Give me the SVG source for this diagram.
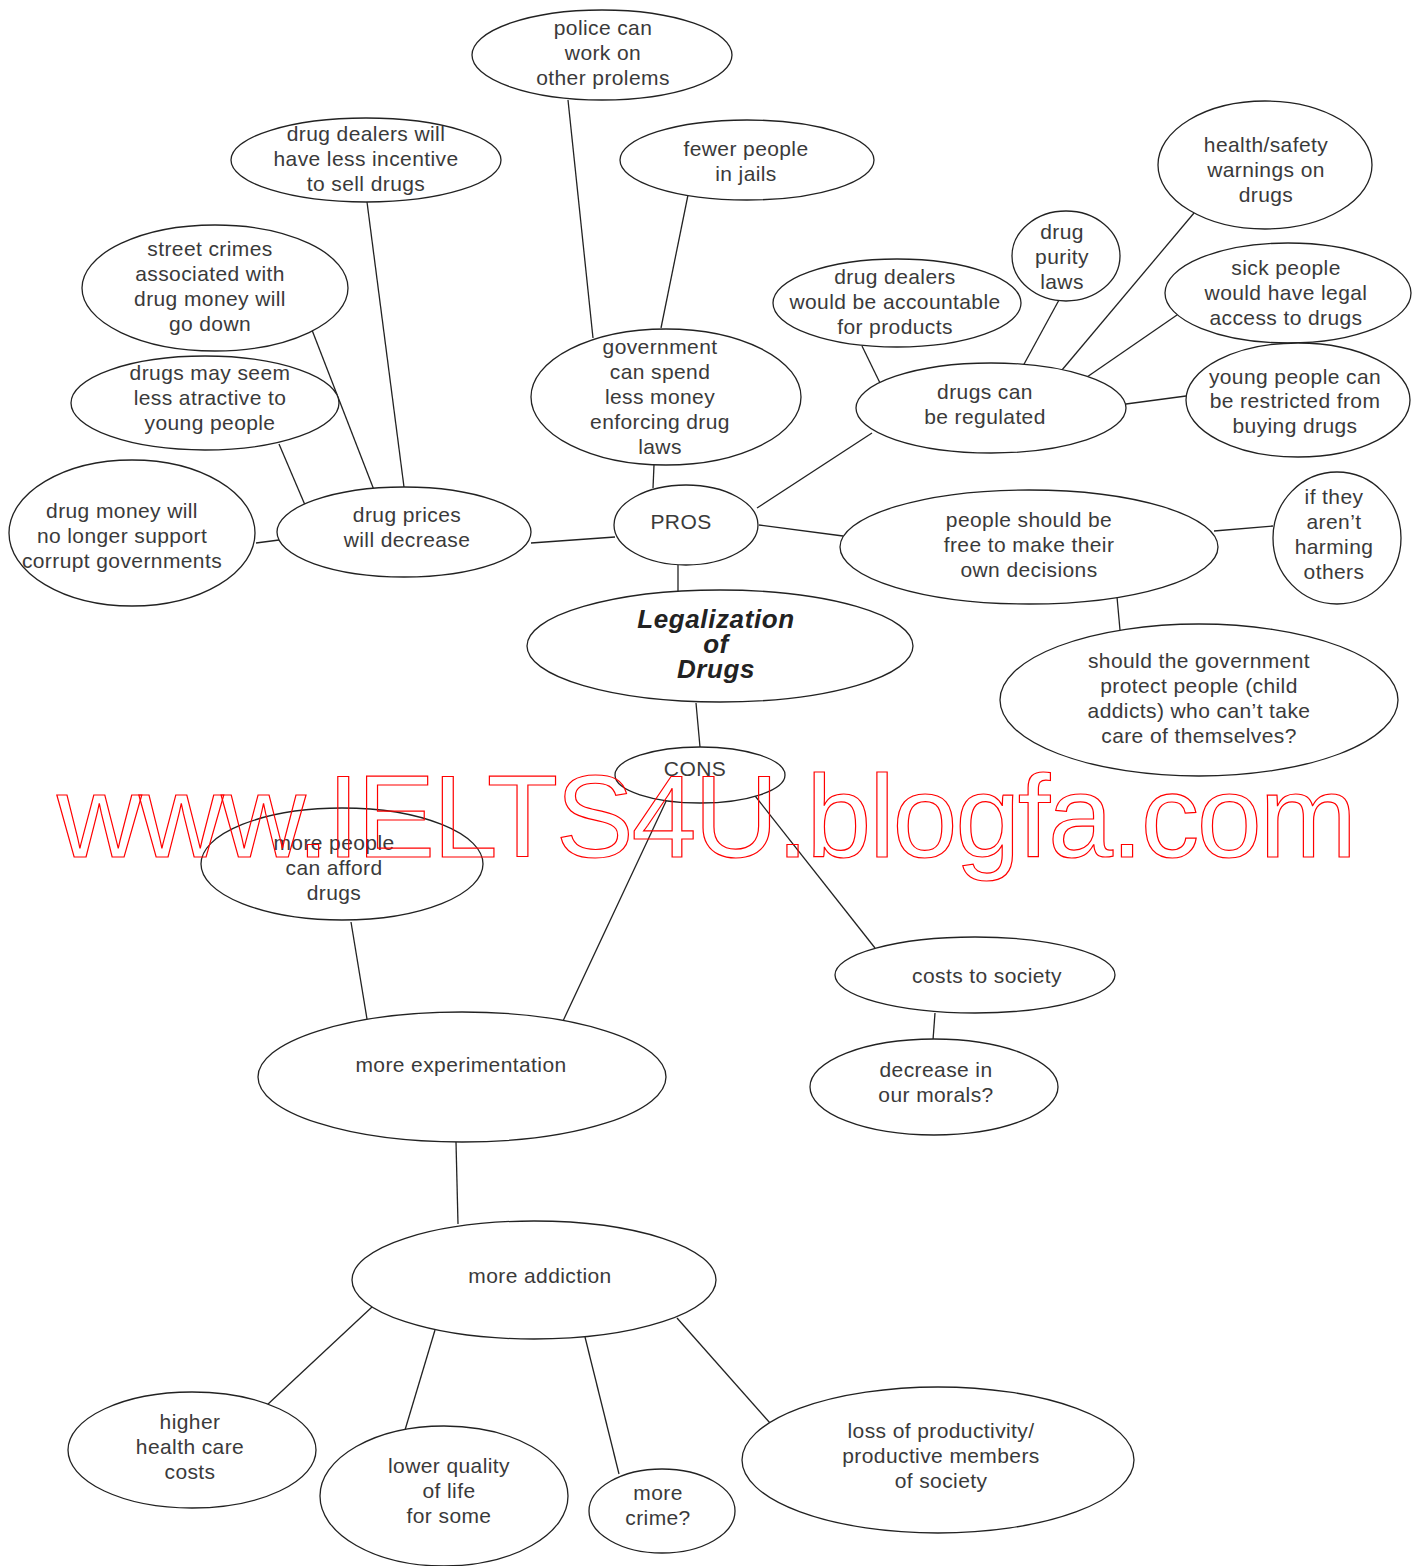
<svg xmlns="http://www.w3.org/2000/svg" width="1422" height="1566" viewBox="0 0 1422 1566">
<style>
.n ellipse{fill:#fff;stroke:#222;stroke-width:1.3}
.n text{font-family:"Liberation Sans","DejaVu Sans",sans-serif;font-size:21px;letter-spacing:0.4px;fill:#3a3a3a;text-anchor:middle}
#connectors line{stroke:#222;stroke-width:1.3}
.n text.title{font-family:"Liberation Sans",sans-serif;font-weight:bold;font-style:italic;font-size:26px;letter-spacing:0.6px;fill:#222;text-anchor:middle}
.wm{font-family:"Liberation Sans Narrow","Liberation Sans",sans-serif;font-size:117px;fill:none;stroke:#f00;stroke-width:1.2}
</style>
<rect width="1422" height="1566" fill="#fff"/>
<g id="connectors">
<line x1="568" y1="100" x2="593" y2="338"/>
<line x1="688" y1="195" x2="661" y2="328"/>
<line x1="654" y1="465" x2="653" y2="488"/>
<line x1="367" y1="202" x2="404" y2="487"/>
<line x1="312" y1="330" x2="374" y2="490"/>
<line x1="279" y1="444" x2="305" y2="505"/>
<line x1="256" y1="543" x2="279" y2="540"/>
<line x1="531" y1="543" x2="615" y2="537"/>
<line x1="757" y1="508" x2="872" y2="433"/>
<line x1="759" y1="525" x2="843" y2="536"/>
<line x1="678" y1="565" x2="678" y2="591"/>
<line x1="862" y1="346" x2="880" y2="383"/>
<line x1="1059" y1="300" x2="1023" y2="366"/>
<line x1="1194" y1="213" x2="1062" y2="370"/>
<line x1="1177" y1="315" x2="1087" y2="377"/>
<line x1="1186" y1="396" x2="1126" y2="404"/>
<line x1="1214" y1="531" x2="1273" y2="526"/>
<line x1="1117" y1="597" x2="1120" y2="630"/>
<line x1="696" y1="703" x2="700" y2="747"/>
<line x1="668" y1="797" x2="563" y2="1021"/>
<line x1="752" y1="792" x2="875" y2="948"/>
<line x1="935" y1="1013" x2="933" y2="1040"/>
<line x1="351" y1="922" x2="367" y2="1019"/>
<line x1="456" y1="1142" x2="458" y2="1224"/>
<line x1="372" y1="1307" x2="267" y2="1405"/>
<line x1="435" y1="1330" x2="405" y2="1430"/>
<line x1="585" y1="1337" x2="619" y2="1474"/>
<line x1="677" y1="1318" x2="770" y2="1423"/>
</g>
<g id="police" class="n"><ellipse cx="602" cy="55" rx="130" ry="45"/><text><tspan x="603" y="35">police can</tspan><tspan x="603" y="60">work on</tspan><tspan x="603" y="85">other prolems</tspan></text></g>
<g id="fewer" class="n"><ellipse cx="747" cy="160" rx="127" ry="40"/><text><tspan x="746" y="156">fewer people</tspan><tspan x="746" y="181">in jails</tspan></text></g>
<g id="incentive" class="n"><ellipse cx="366" cy="160" rx="135" ry="42"/><text><tspan x="366" y="141">drug dealers will</tspan><tspan x="366" y="166">have less incentive</tspan><tspan x="366" y="191">to sell drugs</tspan></text></g>
<g id="street" class="n"><ellipse cx="215" cy="288" rx="133" ry="63"/><text><tspan x="210" y="256">street crimes</tspan><tspan x="210" y="281">associated with</tspan><tspan x="210" y="306">drug money will</tspan><tspan x="210" y="331">go down</tspan></text></g>
<g id="attractive" class="n"><ellipse cx="205" cy="403" rx="134" ry="47"/><text><tspan x="210" y="380">drugs may seem</tspan><tspan x="210" y="405">less atractive to</tspan><tspan x="210" y="430">young people</tspan></text></g>
<g id="corrupt" class="n"><ellipse cx="132" cy="533" rx="123" ry="73"/><text><tspan x="122" y="518">drug money will</tspan><tspan x="122" y="543">no longer support</tspan><tspan x="122" y="568">corrupt governments</tspan></text></g>
<g id="prices" class="n"><ellipse cx="404" cy="532" rx="127" ry="45"/><text><tspan x="407" y="522">drug prices</tspan><tspan x="407" y="547">will decrease</tspan></text></g>
<g id="government" class="n"><ellipse cx="666" cy="397" rx="135" ry="68"/><text><tspan x="660" y="354">government</tspan><tspan x="660" y="379">can spend</tspan><tspan x="660" y="404">less money</tspan><tspan x="660" y="429">enforcing drug</tspan><tspan x="660" y="454">laws</tspan></text></g>
<g id="pros" class="n"><ellipse cx="686" cy="525" rx="72" ry="40"/><text x="681" y="529">PROS</text></g>
<g id="accountable" class="n"><ellipse cx="897" cy="303" rx="124" ry="44"/><text><tspan x="895" y="284">drug dealers</tspan><tspan x="895" y="309">would be accountable</tspan><tspan x="895" y="334">for products</tspan></text></g>
<g id="purity" class="n"><ellipse cx="1066" cy="256" rx="54" ry="45"/><text><tspan x="1062" y="239">drug</tspan><tspan x="1062" y="264">purity</tspan><tspan x="1062" y="289">laws</tspan></text></g>
<g id="warnings" class="n"><ellipse cx="1265" cy="165" rx="107" ry="64"/><text><tspan x="1266" y="152">health/safety</tspan><tspan x="1266" y="177">warnings on</tspan><tspan x="1266" y="202">drugs</tspan></text></g>
<g id="sick" class="n"><ellipse cx="1288" cy="293" rx="123" ry="50"/><text><tspan x="1286" y="275">sick people</tspan><tspan x="1286" y="300">would have legal</tspan><tspan x="1286" y="325">access to drugs</tspan></text></g>
<g id="regulated" class="n"><ellipse cx="991" cy="408" rx="135" ry="45"/><text><tspan x="985" y="399">drugs can</tspan><tspan x="985" y="424">be regulated</tspan></text></g>
<g id="restricted" class="n"><ellipse cx="1298" cy="400" rx="112" ry="57"/><text><tspan x="1295" y="384">young people can</tspan><tspan x="1295" y="408">be restricted from</tspan><tspan x="1295" y="433">buying drugs</tspan></text></g>
<g id="free" class="n"><ellipse cx="1029" cy="547" rx="189" ry="57"/><text><tspan x="1029" y="527">people should be</tspan><tspan x="1029" y="552">free to make their</tspan><tspan x="1029" y="577">own decisions</tspan></text></g>
<g id="harming" class="n"><ellipse cx="1337" cy="538" rx="64" ry="66"/><text><tspan x="1334" y="504">if they</tspan><tspan x="1334" y="529">aren’t</tspan><tspan x="1334" y="554">harming</tspan><tspan x="1334" y="579">others</tspan></text></g>
<g id="legalization" class="n"><ellipse cx="720" cy="646" rx="193" ry="56"/><text class="title"><tspan x="716" y="628">Legalization</tspan><tspan x="716" y="653">of</tspan><tspan x="716" y="678">Drugs</tspan></text></g>
<g id="protect" class="n"><ellipse cx="1199" cy="700" rx="199" ry="76"/><text><tspan x="1199" y="668">should the government</tspan><tspan x="1199" y="693">protect people (child</tspan><tspan x="1199" y="718">addicts) who can’t take</tspan><tspan x="1199" y="743">care of themselves?</tspan></text></g>
<g id="cons" class="n"><ellipse cx="700" cy="775" rx="85" ry="28"/><text x="695" y="776">CONS</text></g>
<g id="afford" class="n"><ellipse cx="342" cy="864" rx="141" ry="56"/><text><tspan x="334" y="850">more people</tspan><tspan x="334" y="875">can afford</tspan><tspan x="334" y="900">drugs</tspan></text></g>
<g id="costs" class="n"><ellipse cx="975" cy="975" rx="140" ry="38"/><text x="987" y="983">costs to society</text></g>
<g id="morals" class="n"><ellipse cx="934" cy="1087" rx="124" ry="48"/><text><tspan x="936" y="1077">decrease in</tspan><tspan x="936" y="1102">our morals?</tspan></text></g>
<g id="experimentation" class="n"><ellipse cx="462" cy="1077" rx="204" ry="65"/><text x="461" y="1072">more experimentation</text></g>
<g id="addiction" class="n"><ellipse cx="534" cy="1280" rx="182" ry="59"/><text x="540" y="1283">more addiction</text></g>
<g id="health" class="n"><ellipse cx="192" cy="1450" rx="124" ry="58"/><text><tspan x="190" y="1429">higher</tspan><tspan x="190" y="1454">health care</tspan><tspan x="190" y="1479">costs</tspan></text></g>
<g id="quality" class="n"><ellipse cx="444" cy="1496" rx="124" ry="70"/><text><tspan x="449" y="1473">lower quality</tspan><tspan x="449" y="1498">of life</tspan><tspan x="449" y="1523">for some</tspan></text></g>
<g id="crime" class="n"><ellipse cx="662" cy="1511" rx="73" ry="42"/><text><tspan x="658" y="1500">more</tspan><tspan x="658" y="1525">crime?</tspan></text></g>
<g id="productivity" class="n"><ellipse cx="938" cy="1460" rx="196" ry="73"/><text><tspan x="941" y="1438">loss of productivity/</tspan><tspan x="941" y="1463">productive members</tspan><tspan x="941" y="1488">of society</tspan></text></g>
<text class="wm" x="57" y="857" textLength="1300" lengthAdjust="spacing">www.IELTS4U.blogfa.com</text>
</svg>
